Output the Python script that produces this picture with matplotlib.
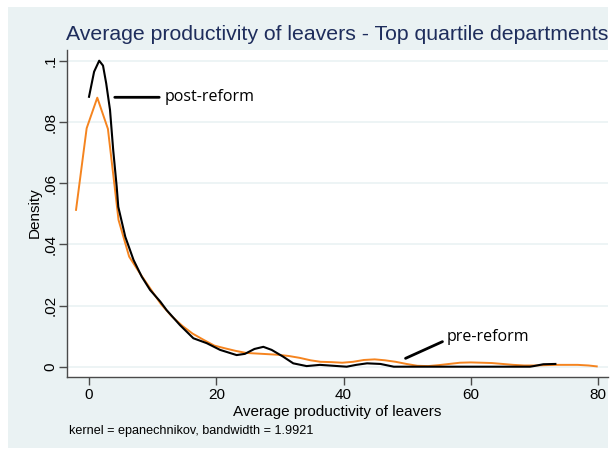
import matplotlib
matplotlib.use("Agg")
import matplotlib.pyplot as plt
from matplotlib.patches import Rectangle

# ---- data ----
post_x = [0.0, 0.8, 1.6, 2.2, 2.7, 3.3, 3.8, 4.35, 4.6, 5.7, 7.0, 8.3, 9.6, 11.2, 12.2,
          14.3, 16.4, 18.5, 20.6, 23.2, 24.5, 26.0, 27.4, 28.7, 30.5, 32.1, 34.2, 36.3,
          38.4, 40.5, 42.0, 43.7, 45.8, 47.9, 53.6, 60.0, 69.3, 69.9, 71.4, 73.3]
post_y = [0.0883, 0.0965, 0.1001, 0.0985, 0.0927, 0.0840, 0.0709, 0.0589, 0.0523, 0.0425,
          0.0349, 0.0294, 0.0251, 0.0213, 0.0185, 0.0136, 0.0093, 0.0077, 0.0055, 0.0038,
          0.0042, 0.0058, 0.0065, 0.0055, 0.0033, 0.0011, 0.0002, 0.0006, 0.0003, 0.0000,
          0.0006, 0.0011, 0.0009, 0.0000, 0.0000, 0.0000, 0.0000, 0.0002, 0.0008, 0.0009]

pre_x = [-2.04, -0.37, 1.30, 2.97, 4.64, 6.31, 7.98, 9.65, 11.3, 13.0, 14.7, 16.3, 18.0,
         19.7, 21.4, 23.0, 24.7, 26.4, 28.1, 29.7, 31.4, 33.1, 34.8, 36.4, 38.1, 39.8,
         41.5, 43.2, 44.9, 46.5, 48.2, 49.9, 51.6, 53.3, 54.9, 56.6, 58.3, 60.0, 61.7,
         63.3, 65.0, 66.7, 68.4, 70.1, 71.7, 73.4, 75.1, 76.8, 78.5, 79.8]
pre_y = [0.0513, 0.0780, 0.0880, 0.0778, 0.0480, 0.0360, 0.0306, 0.0255, 0.0205, 0.0165,
         0.0133, 0.0108, 0.0088, 0.0069, 0.0060, 0.0052, 0.0045, 0.0043, 0.0041, 0.0039,
         0.0035, 0.0029, 0.0021, 0.0016, 0.0015, 0.0013, 0.0016, 0.0022, 0.0024, 0.0021,
         0.0016, 0.0009, 0.0003, 0.0002, 0.0005, 0.0009, 0.0013, 0.0014, 0.0013, 0.0012,
         0.0009, 0.0006, 0.0004, 0.0004, 0.0005, 0.0006, 0.0006, 0.0006, 0.0004, 0.0001]

x_ticks = [0, 20, 40, 60, 80]
y_ticks = [0, 0.02, 0.04, 0.06, 0.08, 0.1]
y_tick_labels = ["0", ".02", ".04", ".06", ".08", ".1"]

title = "Average productivity of leavers - Top quartile departments"
x_label = "Average productivity of leavers"
y_label = "Density"
note = "kernel = epanechnikov, bandwidth = 1.9921"
post_label = "post-reform"
pre_label = "pre-reform"

# ---- figure ----
W, H = 616, 450
fig = plt.figure(figsize=(W / 100, H / 100), dpi=100, facecolor="white")
BG = "#eaf2f3"
fig.patches.append(Rectangle((8 / W, 1 - 448 / H), 600 / W, 441 / H,
                             transform=fig.transFigure, facecolor=BG,
                             edgecolor="none", zorder=-10))

def fx(px):
    return px / W

def fy(py):
    return 1 - py / H

ax = fig.add_axes([fx(67), fy(377), (608 - 67) / W, (377 - 50) / H])
ax.set_facecolor("white")

ORANGE = "#f5841f"
ax.plot(pre_x, pre_y, color=ORANGE, lw=1.4, zorder=3)
ax.plot(post_x, post_y, color="black", lw=1.5, zorder=4)

ax.set_xlim(-3.46, 81.57)
ax.set_ylim(-0.00337, 0.1036)
ax.set_xticks(x_ticks)
ax.set_yticks(y_ticks)
ax.set_yticklabels(y_tick_labels, rotation=90, va="center")
ax.yaxis.grid(True, color=BG, lw=1.2, zorder=0)
ax.set_axisbelow(True)

for s in ["top", "right"]:
    ax.spines[s].set_visible(False)
for s in ["left", "bottom"]:
    ax.spines[s].set_color("#4a4a4a")
    ax.spines[s].set_linewidth(1.0)

FONT = "Liberation Sans"
ax.tick_params(axis="both", direction="out", length=6, width=1, color="#4a4a4a",
               labelsize=11, labelcolor="black")
for lab in ax.get_xticklabels() + ax.get_yticklabels():
    lab.set_fontfamily(FONT)
ax.tick_params(axis="x", pad=2)
ax.tick_params(axis="y", pad=1)

fig.text(fx(337), fy(35), title, ha="center", va="center", fontsize=15.3,
         color="#1e2d5c", family=FONT)
fig.text(fx(337), fy(412), x_label, ha="center", va="center", fontsize=11,
         color="black", family=FONT)
fig.text(fx(35), fy(213), y_label, ha="center", va="center", fontsize=11,
         rotation=90, color="black", family=FONT)
fig.text(fx(69), fy(431), note, ha="left", va="center", fontsize=9.1,
         color="black", family=FONT)

# annotations
ax.annotate("", xy=(fx(112), fy(97.3)), xycoords="figure fraction",
            xytext=(fx(162), fy(97.3)), textcoords="figure fraction",
            arrowprops=dict(arrowstyle="-", color="black", lw=2))
fig.text(fx(165), fy(97), post_label, ha="left", va="center", fontsize=11.5,
         family="Open Sans", color="black")
ax.annotate("", xy=(fx(403), fy(359.5)), xycoords="figure fraction",
            xytext=(fx(445), fy(340.5)), textcoords="figure fraction",
            arrowprops=dict(arrowstyle="-", color="black", lw=2))
fig.text(fx(447), fy(337), pre_label, ha="left", va="center", fontsize=11.5,
         family="Open Sans", color="black")

fig.savefig("out.png", dpi=100, facecolor="white")
